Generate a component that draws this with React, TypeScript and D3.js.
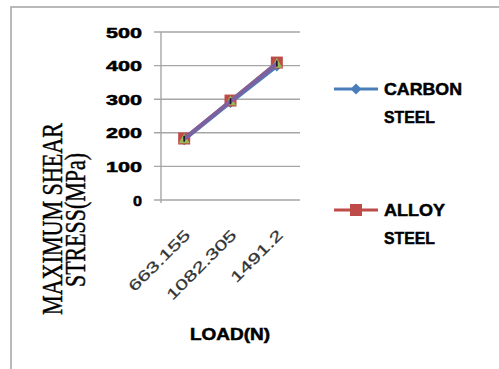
import React from "react";
import * as d3 from "d3";

// Load cases (N) on the category axis
const loads = ["663.155", "1082.305", "1491.2"];
// Maximum shear stress (MPa) per material
const carbonSteel = [178, 289, 397];
const alloySteel = [183, 296, 409];
const seriesThree = [182, 295, 407];
const seriesFour = [182, 294, 406];
const yTicks = [0, 100, 200, 300, 400, 500];
const yTickWidths = [9, 36, 36, 36, 36, 36];
const xTickLengths = [80, 92, 67];

const W = 499;
const H = 369;

const boldText = {
  fontFamily: "Liberation Sans, Arial, sans-serif",
  fontWeight: "bold" as const,
  stroke: "#000",
  strokeWidth: 0.5,
  fill: "#000",
};

export default function App() {
  const x = d3.scaleBand<string>().domain(loads).range([161, 300]);
  const y = d3.scaleLinear().domain([0, 500]).range([200, 32]);
  const cx = (c: string) => (x(c) ?? 0) + x.bandwidth() / 2;
  const line = d3
    .line<number>()
    .x((_, i) => cx(loads[i]))
    .y((v) => y(v));

  const sq = 12;
  const diamond = (px: number, py: number, r: number) =>
    `M${px},${py - r}L${px + r},${py}L${px},${py + r}L${px - r},${py}Z`;
  const tri = (px: number, py: number, r: number) =>
    `M${px},${py - r}L${px + r},${py + r * 0.8}L${px - r},${py + r * 0.8}Z`;

  return (
    <svg
      width={W}
      height={H}
      style={{ position: "absolute", left: 0, top: 0, background: "#fff" }}
    >
      <rect x={11} y={7} width={700} height={700} fill="#fff" stroke="#a9a9a9" strokeWidth={1.6} />

      {/* gridlines and y ticks */}
      {yTicks.map((t) => (
        <line key={t} x1={154} x2={300} y1={y(t)} y2={y(t)} stroke="#a6a6a6" strokeWidth={1.4} />
      ))}
      <line x1={161} x2={161} y1={y(500)} y2={y(0) + 3} stroke="#a6a6a6" strokeWidth={1.4} />
      {yTicks.map((t, i) => (
        <text
          key={"yl" + t}
          x={142}
          y={y(t) + 5.5}
          textAnchor="end"
          fontSize={15}
          textLength={yTickWidths[i]}
          lengthAdjust="spacingAndGlyphs"
          {...boldText}
        >
          {t}
        </text>
      ))}

      {/* x tick labels */}
      {loads.map((c, i) => (
        <text
          key={c}
          transform={`translate(${cx(c) + 7},${236}) rotate(-45)`}
          textAnchor="end"
          fontFamily="Liberation Sans, Arial, sans-serif"
          fontSize={15}
          textLength={xTickLengths[i]}
          lengthAdjust="spacingAndGlyphs"
          fill="#333"
          stroke="#333"
          strokeWidth={0.25}
        >
          {c}
        </text>
      ))}

      {/* series */}
      <path d={line(carbonSteel) ?? ""} fill="none" stroke="#4a7ebb" strokeWidth={3} />
      {carbonSteel.map((v, i) => (
        <path key={"c" + i} d={diamond(cx(loads[i]), y(v), 5)} fill="#4a7ebb" />
      ))}
      <path d={line(alloySteel) ?? ""} fill="none" stroke="#be4b48" strokeWidth={3} />
      {alloySteel.map((v, i) => (
        <rect key={"a" + i} x={cx(loads[i]) - sq / 2} y={y(v) - sq / 2} width={sq} height={sq} fill="#be4b48" />
      ))}
      <path d={line(seriesThree) ?? ""} fill="none" stroke="#98b954" strokeWidth={3} />
      {seriesThree.map((v, i) => (
        <path key={"g" + i} d={tri(cx(loads[i]), y(v), 5.5)} fill="#98b954" />
      ))}
      <path d={line(seriesFour) ?? ""} fill="none" stroke="#7d60a0" strokeWidth={4} />
      {seriesFour.map((v, i) => (
        <line
          key={"p" + i}
          x1={cx(loads[i])}
          x2={cx(loads[i])}
          y1={y(v) - 3}
          y2={y(v) + 3}
          stroke="#1f1430"
          strokeWidth={1.6}
        />
      ))}

      {/* axis titles */}
      <g transform="translate(62,219) scale(1.45,1) rotate(-90)">
        <text
          textAnchor="middle"
          fontFamily="Liberation Serif, Times New Roman, serif"
          fontSize={20}
          textLength={192}
          lengthAdjust="spacingAndGlyphs"
          fill="#000"
          stroke="#000"
          strokeWidth={0.3}
        >
          MAXIMUM SHEAR
        </text>
      </g>
      <g transform="translate(85,220) scale(1.45,1) rotate(-90)">
        <text
          textAnchor="middle"
          fontFamily="Liberation Serif, Times New Roman, serif"
          fontSize={20}
          textLength={134}
          lengthAdjust="spacingAndGlyphs"
          fill="#000"
          stroke="#000"
          strokeWidth={0.3}
        >
          STRESS(MPa)
        </text>
      </g>
      <text x={230} y={340} textAnchor="middle" fontSize={16} textLength={80} lengthAdjust="spacingAndGlyphs" {...boldText}>
        LOAD(N)
      </text>

      {/* legend */}
      <line x1={334} x2={378} y1={89} y2={89} stroke="#4a7ebb" strokeWidth={3} />
      <path d={diamond(356, 89, 5.5)} fill="#4a7ebb" />
      <text x={384} y={95} fontSize={17} textLength={78} lengthAdjust="spacingAndGlyphs" {...boldText}>CARBON</text>
      <text x={384} y={123} fontSize={17} textLength={51} lengthAdjust="spacingAndGlyphs" {...boldText}>STEEL</text>

      <line x1={334} x2={378} y1={210} y2={210} stroke="#be4b48" strokeWidth={3} />
      <rect x={356 - 6} y={210 - 6} width={12} height={12} fill="#be4b48" />
      <text x={384} y={216} fontSize={17} textLength={61} lengthAdjust="spacingAndGlyphs" {...boldText}>ALLOY</text>
      <text x={384} y={244} fontSize={17} textLength={51} lengthAdjust="spacingAndGlyphs" {...boldText}>STEEL</text>
    </svg>
  );
}
